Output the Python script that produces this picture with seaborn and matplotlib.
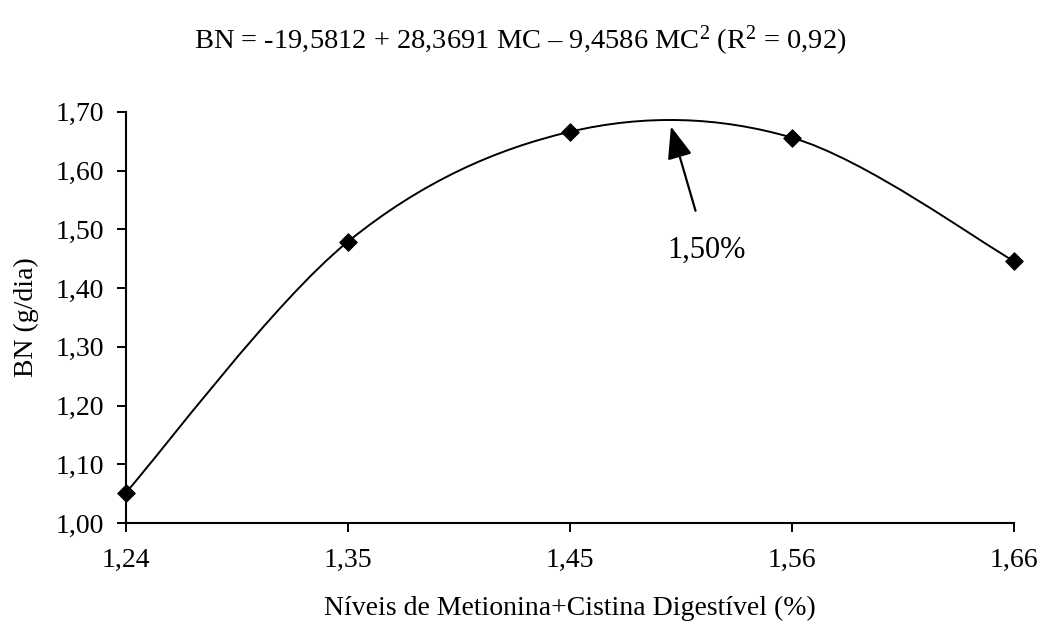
import matplotlib
matplotlib.use("Agg")
import matplotlib.pyplot as plt
import seaborn as sns
import numpy as np
import pandas as pd
from matplotlib.path import Path
from matplotlib.patches import PathPatch

# data
mc_labels = ['1,24', '1,35', '1,45', '1,56', '1,66']
bn_values = [1.052, 1.479, 1.666, 1.656, 1.446]
y_ticks = [1.00, 1.10, 1.20, 1.30, 1.40, 1.50, 1.60, 1.70]
y_tick_labels = ['1,00', '1,10', '1,20', '1,30', '1,40', '1,50', '1,60', '1,70']

sns.set_style("white")
plt.rcParams['font.family'] = ['Liberation Serif', 'DejaVu Serif']
plt.rcParams['mathtext.fontset'] = 'custom'
plt.rcParams['mathtext.rm'] = 'Liberation Serif'
plt.rcParams['mathtext.default'] = 'regular'
plt.rcParams['text.color'] = 'black'
plt.rcParams['axes.labelcolor'] = 'black'

df = pd.DataFrame({'pos': np.arange(len(mc_labels)), 'bn': bn_values})

fig = plt.figure(figsize=(10.41, 6.28), dpi=100)
ax = fig.add_axes([0.121, 0.167, 0.853, 0.655])

# smoothed line like Excel (cardinal spline as bezier segments)
pts = df[['pos', 'bn']].to_numpy()
verts = [tuple(pts[0])]
codes = [Path.MOVETO]
n = len(pts)
for i in range(n - 1):
    p0 = pts[max(i - 1, 0)]
    p1 = pts[i]
    p2 = pts[i + 1]
    p3 = pts[min(i + 2, n - 1)]
    c1 = p1 + (p2 - p0) / 6.0
    c2 = p2 - (p3 - p1) / 6.0
    verts += [tuple(c1), tuple(c2), tuple(p2)]
    codes += [Path.CURVE4] * 3
ax.add_patch(PathPatch(Path(verts, codes), facecolor='none', edgecolor='black', lw=1.4, zorder=2))

sns.scatterplot(data=df, x='pos', y='bn', marker='D', s=80, color='black',
                edgecolor='black', ax=ax, zorder=3, clip_on=False)

ax.set_xlim(0, 4)
ax.set_ylim(1.0, 1.70)
ax.set_xticks(df['pos'])
ax.set_xticklabels(mc_labels)
ax.set_yticks(y_ticks)
ax.set_yticklabels(y_tick_labels)
ax.tick_params(axis='both', direction='out', length=6.5, width=1.4, colors='black',
               labelsize=20, bottom=True, left=True)
ax.tick_params(axis='y', pad=9)
ax.tick_params(axis='x', pad=11)

for s in ['top', 'right']:
    ax.spines[s].set_visible(False)
for s in ['left', 'bottom']:
    ax.spines[s].set_color('black')
    ax.spines[s].set_linewidth(1.5)

ax.set_xlabel('Níveis de Metionina+Cistina Digestível (%)', fontsize=20, color='black')
ax.set_ylabel('BN (g/dia)', fontsize=20, color='black')
ax.xaxis.set_label_coords(0.5, -0.178)
ax.yaxis.set_label_coords(-0.098, 0.5)

fig.text(0.5, 0.935, r'BN = -19,5812 + 28,3691 MC – 9,4586 MC$^{2}$ (R$^{2}$ = 0,92)',
         ha='center', va='center', fontsize=20.5, color='black')

ax.annotate('1,50%', xy=(2.455, 1.675), xytext=(2.617, 1.465),
            ha='center', va='center', fontsize=22, color='black',
            arrowprops=dict(arrowstyle='-|>,head_length=0.9,head_width=0.35',
                            color='black', lw=1.6, shrinkA=16, shrinkB=0))

fig.savefig('out.png', dpi=100, facecolor='white')
